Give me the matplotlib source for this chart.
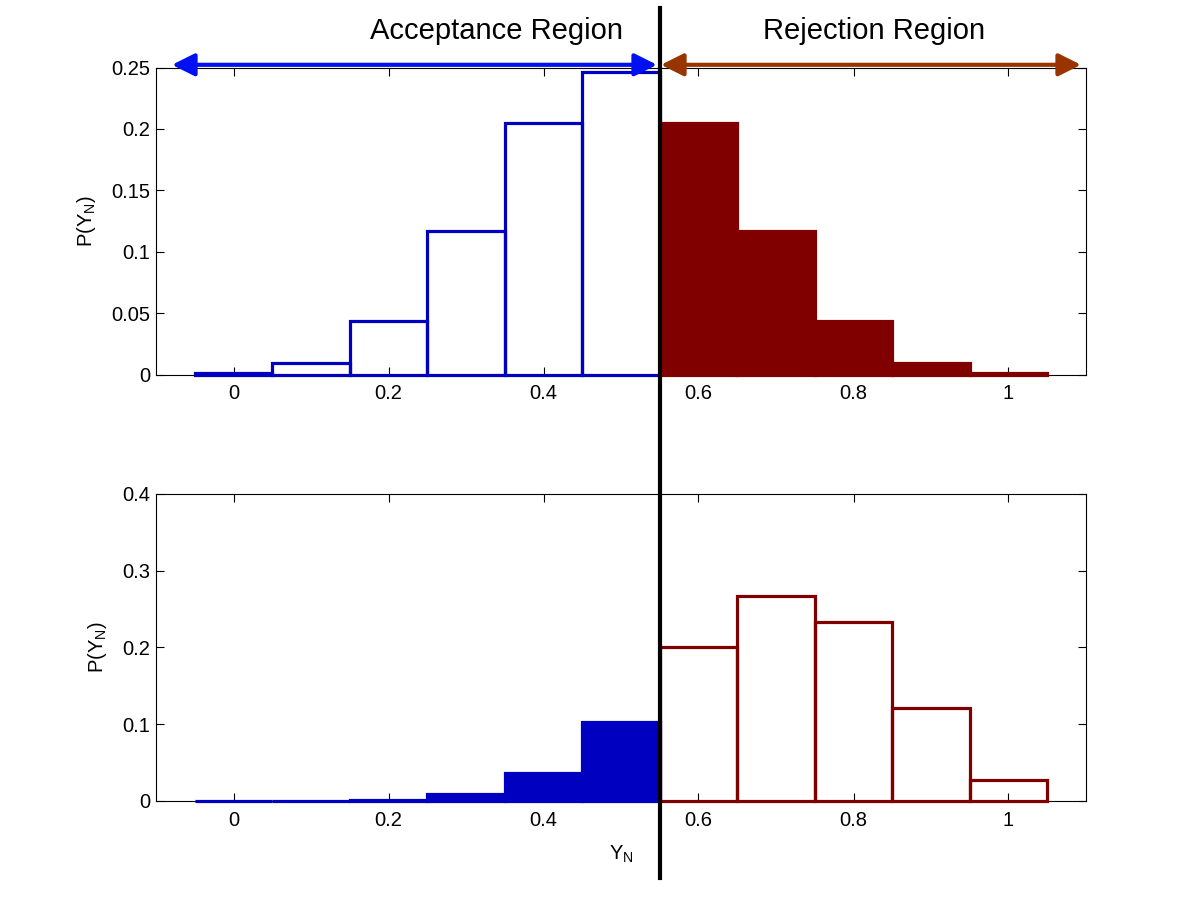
import numpy as np
import matplotlib.pyplot as plt
from matplotlib.lines import Line2D
from matplotlib.patches import FancyArrowPatch
from matplotlib.transforms import blended_transform_factory

plt.rcParams['font.family'] = ['Liberation Sans', 'DejaVu Sans']
plt.rcParams['mathtext.default'] = 'regular'

# centros de los bins (Y_N = k/10)
centros = [0.0, 0.1, 0.2, 0.3, 0.4, 0.5, 0.6, 0.7, 0.8, 0.9, 1.0]
# histograma de arriba (hipotesis nula)
p_arriba = [0.001, 0.0098, 0.044, 0.117, 0.205, 0.246, 0.205, 0.117, 0.044, 0.0098, 0.001]
# histograma de abajo (hipotesis alternativa)
p_abajo = [0.0, 0.0001, 0.0014, 0.009, 0.037, 0.103, 0.200, 0.267, 0.233, 0.121, 0.028]
umbral = 0.55

azul = '#0000C0'
rojo = '#800000'

fig = plt.figure(figsize=(12, 9), dpi=100)
ax1 = fig.add_axes([0.13, 0.5838, 0.775, 0.3412])
ax2 = fig.add_axes([0.13, 0.11, 0.775, 0.3412])

centros = np.array(centros)
izq = centros < umbral
der = ~izq

# arriba: aceptacion en contorno azul, rechazo relleno rojo
ax1.bar(centros[izq], np.array(p_arriba)[izq], width=0.1, fill=False,
        edgecolor=azul, linewidth=2.3, zorder=3, clip_on=False)
ax1.bar(centros[der], np.array(p_arriba)[der], width=0.1, color=rojo,
        edgecolor=rojo, linewidth=2.3, zorder=3, clip_on=False)
# abajo: aceptacion relleno azul, rechazo contorno rojo
ax2.bar(centros[izq], np.array(p_abajo)[izq], width=0.1, color=azul,
        edgecolor=azul, linewidth=2.3, zorder=3, clip_on=False)
ax2.bar(centros[der], np.array(p_abajo)[der], width=0.1, fill=False,
        edgecolor=rojo, linewidth=2.3, zorder=3, clip_on=False)

ax1.set_ylim(0, 0.25)
ax1.set_yticks([0, 0.05, 0.1, 0.15, 0.2, 0.25])
ax1.set_yticklabels(['0', '0.05', '0.1', '0.15', '0.2', '0.25'])
ax2.set_ylim(0, 0.4)
ax2.set_yticks([0, 0.1, 0.2, 0.3, 0.4])
ax2.set_yticklabels(['0', '0.1', '0.2', '0.3', '0.4'])

for ax in (ax1, ax2):
    ax.set_xlim(-0.1, 1.1)
    ax.set_xticks([0, 0.2, 0.4, 0.6, 0.8, 1.0])
    ax.set_xticklabels(['0', '0.2', '0.4', '0.6', '0.8', '1'])
    ax.tick_params(direction='in', length=6, width=0.8, top=True, right=True,
                   labelsize=14.5)
    ax.tick_params(axis='x', pad=7)
    ax.tick_params(axis='y', pad=4)
    ax.set_ylabel('P(Y$_N$)', fontsize=14.5, labelpad=10)
    for s in ax.spines.values():
        s.set_linewidth(0.8)

ax2.set_xlabel('Y$_N$', fontsize=14.5, labelpad=10)

# linea vertical del umbral, atraviesa toda la figura
tr = blended_transform_factory(ax1.transData, fig.transFigure)
fig.add_artist(Line2D([umbral, umbral], [0.0244, 0.991], color='black',
                      linewidth=3, transform=tr))

# flechas de regiones
fig.text(0.414, 0.966, 'Acceptance Region', ha='center', va='center', fontsize=21)
fig.text(0.728, 0.966, 'Rejection Region', ha='center', va='center', fontsize=21)
fig.add_artist(FancyArrowPatch(
    (172 / 1200, 0.928), (657 / 1200, 0.928), arrowstyle='<|-|>',
    mutation_scale=34, color='#0010F0', linewidth=3, shrinkA=0, shrinkB=0))
fig.add_artist(FancyArrowPatch(
    (661 / 1200, 0.928), (1081 / 1200, 0.928), arrowstyle='<|-|>',
    mutation_scale=34, color='#993300', linewidth=3, shrinkA=0, shrinkB=0))

fig.savefig('out.png', dpi=100)
